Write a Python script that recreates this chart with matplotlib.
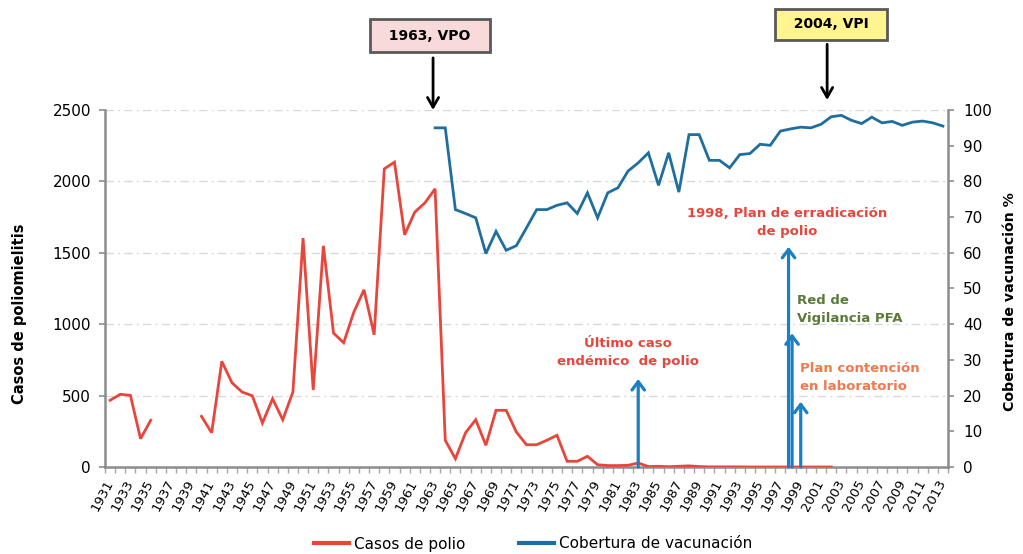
import numpy as np
import matplotlib
matplotlib.use("Agg")
import matplotlib.pyplot as plt
from matplotlib.ticker import FixedLocator, FixedFormatter
from matplotlib.lines import Line2D

nan = np.nan

# ---------------- data ----------------
years = list(range(1931, 2014))

casos_polio = [467, 509, 502, 198, 327, nan, nan, nan, nan,
               355, 240, 740, 590, 525, 499, 308, 478, 331, 525,
               1603, 539, 1549, 938, 870, 1085, 1241, 926, 2088, 2135,
               1626, 1785, 1850, 1948, 187, 58, 240, 331, 152, 397,
               397, 245, 156, 156, 187, 222, 40, 40, 75, 16,
               10, 10, 12, 28, 3, 5, 2, 5, 8, 3,
               1, 1, 1, 1, 0, 0, 0, 0, 0, 0, 0, 0, 0,
               nan, nan, nan, nan, nan, nan, nan, nan, nan, nan, nan]

cobertura = [nan] * 32 + [
    95.0, 95.0, 72.1, 71.0, 69.8, 59.8, 66.0, 60.7, 62.0, 67.0,
    72.1, 72.1, 73.3, 74.0, 71.0, 76.8, 69.8, 76.8, 78.2, 82.9,
    85.2, 88.0, 78.9, 88.0, 77.0, 93.1, 93.1, 85.9, 85.9, 83.8,
    87.5, 87.8, 90.4, 90.1, 94.1, 94.7, 95.2, 95.0, 96.0, 98.1,
    98.5, 97.1, 96.2, 98.0, 96.4, 96.8, 95.7, 96.6, 96.9, 96.4, 95.5]

left_ticks = [0, 500, 1000, 1500, 2000, 2500]
right_ticks = [0, 10, 20, 30, 40, 50, 60, 70, 80, 90, 100]
xtick_labels = [str(y) for y in years[::2]]

# event arrows (year position, arrow top in cases units)
event_years = [1983, 1997.8, 1998.15, 1999]
event_tops = [616, 1542, 936, 457]

# ---------------- style ----------------
RED = "#E8463C"
BLUE = "#1F6E9E"
ARROW_BLUE = "#1B80C2"
GREEN = "#5B7A3A"
ORANGE = "#F07A4F"
AXIS_GRAY = "#8C8C8C"
GRID = "#D9D9D9"

plt.rcParams["font.family"] = ["DejaVu Sans"]

W, H = 1023, 554
fig = plt.figure(figsize=(W / 100, H / 100), dpi=100)
ax = fig.add_axes([105 / W, 1 - 467 / H, (948 - 105) / W, (467 - 110) / H])
ax2 = ax.twinx()

x = np.arange(len(years))
ax.plot(x, casos_polio, color=RED, lw=2.0, solid_joinstyle="miter", zorder=3)
ax2.plot(x, cobertura, color=BLUE, lw=2.0, solid_joinstyle="miter", zorder=3)

ax.set_xlim(-0.5, len(years) - 0.5)
ax.set_ylim(0, 2500)
ax2.set_ylim(0, 100)

# grid
for v in left_ticks[1:]:
    ax.axhline(v, color=GRID, lw=1.0, ls=(0, (6, 3, 1.5, 3)), zorder=0)

# axes / spines
for a in (ax, ax2):
    a.spines["top"].set_visible(False)
    for s in ("left", "right", "bottom"):
        a.spines[s].set_color(AXIS_GRAY)
        a.spines[s].set_linewidth(1.8)
ax.spines["right"].set_visible(False)
ax2.spines["left"].set_visible(False)
ax2.spines["bottom"].set_visible(False)

ax.set_yticks(left_ticks)
ax.set_yticklabels([str(t) for t in left_ticks])
ax2.set_yticks(right_ticks)
ax2.set_yticklabels([str(t) for t in right_ticks])
ax.tick_params(axis="y", colors=AXIS_GRAY, labelcolor="black", labelsize=11, length=4, width=1.2, pad=6)
ax2.tick_params(axis="y", colors=AXIS_GRAY, labelcolor="black", labelsize=11, length=4, width=1.2, pad=7)

ax.xaxis.set_major_locator(FixedLocator(x[::2]))
ax.xaxis.set_major_formatter(FixedFormatter(xtick_labels))
ax.xaxis.set_minor_locator(FixedLocator(np.arange(-0.5, len(years), 1.0)))
ax.tick_params(axis="x", which="major", length=0, labelsize=9.5, pad=10)
ax.tick_params(axis="x", which="minor", length=4, width=1.0, color="#A6A6A6")
for lab in ax.get_xticklabels():
    lab.set_rotation(62)
    lab.set_ha("right")
    lab.set_va("center")
    lab.set_rotation_mode("anchor")

# axis titles
fig.text(20 / W, 1 - 314 / H, "Casos de poliomielitis", rotation=90, ha="center", va="center",
         fontsize=10.5, fontweight="bold")
fig.text(1010 / W, 1 - 302 / H, "Cobertura de vacunación %", rotation=90, ha="center", va="center",
         fontsize=10.2, fontweight="bold")

# event arrows
for ey, top in zip(event_years, event_tops):
    xi = ey - years[0]
    ax.annotate("", xy=(xi, top), xytext=(xi, 0),
                arrowprops=dict(arrowstyle="->,head_length=0.6,head_width=0.45",
                                color=ARROW_BLUE, lw=2.3, shrinkA=0, shrinkB=0),
                zorder=5, annotation_clip=False)

txt_kw = dict(fontsize=9.5, fontweight="bold", linespacing=1.5, zorder=6)
ax.text(1982.0 - years[0], 805, "Último caso\nendémico  de polio", color=RED,
        ha="center", va="center", **txt_kw)
ax.text(1997.7 - years[0], 1715, "1998, Plan de erradicación\nde polio", color=RED,
        ha="center", va="center", **txt_kw)
ax.text(1998.65 - years[0], 1102, "Red de\nVigilancia PFA", color=GREEN,
        ha="left", va="center", **txt_kw)
ax.text(1998.9 - years[0], 626, "Plan contención\nen laboratorio", color=ORANGE,
        ha="left", va="center", **txt_kw)

# top boxes with arrows
box_kw = dict(fontsize=10, fontweight="bold", ha="center", va="center", zorder=7)
ax.text(1962.5 - years[0], 3020, "  1963, VPO  ", transform=ax.transData, clip_on=False,
        bbox=dict(boxstyle="square,pad=0.7", fc="#F8DADA", ec="#595959", lw=2.0), **box_kw)
ax.annotate("", xy=(1962.8 - years[0], 2500), xytext=(1962.8 - years[0], 2865),
            arrowprops=dict(arrowstyle="->,head_length=0.7,head_width=0.4",
                            color="black", lw=2.0, shrinkA=0, shrinkB=0),
            annotation_clip=False)
ax.text(2002.0 - years[0], 3100, "  2004, VPI  ", transform=ax.transData, clip_on=False,
        bbox=dict(boxstyle="square,pad=0.62", fc="#FFF48F", ec="#595959", lw=2.0), **box_kw)
ax.annotate("", xy=(2001.6 - years[0], 2570), xytext=(2001.6 - years[0], 2960),
            arrowprops=dict(arrowstyle="->,head_length=0.7,head_width=0.4",
                            color="black", lw=2.0, shrinkA=0, shrinkB=0),
            annotation_clip=False)

# legend
handles = [Line2D([], [], color=RED, lw=3), Line2D([], [], color=BLUE, lw=3)]
fig.legend(handles, ["Casos de polio", "Cobertura de vacunación"], loc="center",
           bbox_to_anchor=(533 / W, 10 / H), ncol=2, frameon=False,
           fontsize=11, handlelength=2.3, handletextpad=0.3, columnspacing=3.5)

fig.savefig("out.png", dpi=100)
